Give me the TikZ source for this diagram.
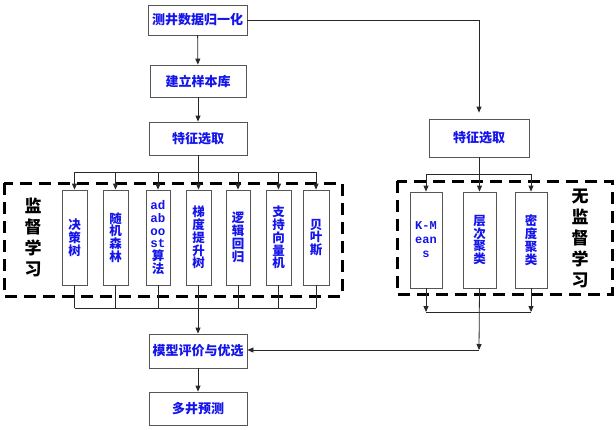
\documentclass[tikz,border=0pt]{standalone}
\usepackage{fontspec}
\newfontfamily\cjk{Noto Sans CJK SC}
\newfontfamily\mono{Liberation Mono}
\usetikzlibrary{arrows.meta}
\definecolor{txtblue}{RGB}{20,20,235}
\definecolor{boxgray}{RGB}{85,85,85}
\definecolor{linegray}{RGB}{40,40,40}
\begin{document}
\begin{tikzpicture}[x=1pt,y=-1pt,
  box/.style={draw=boxgray, line width=0.8pt, fill=white, inner sep=0pt, text=txtblue,
    font=\cjk\bfseries\fontsize{13}{13}\selectfont},
  vbox/.style={box, minimum height=95pt, align=center,
    font=\cjk\bfseries\fontsize{12.5}{12.8}\selectfont},
  conn/.style={draw=linegray, line width=0.8pt},
  arr/.style={conn, -{Triangle[length=6pt,width=5pt]}},
  dashbox/.style={draw=black, line width=3pt, dash pattern=on 12pt off 7pt},
  side/.style={align=center, inner sep=0pt, font=\cjk\bfseries\fontsize{17}{21}\selectfont}]
\useasboundingbox (0,0) rectangle (616,429);
\fill[white] (0,0) rectangle (616,429);
% dashed groups
\draw[dashbox] (4,183) rectangle (342,296);
\draw[dashbox] (397,181) rectangle (612,294);
% left column
\node[box, minimum width=99pt, minimum height=30pt] (n1) at (197.5,20) {测井数据归一化};
\node[box, minimum width=96pt, minimum height=32pt] (n2) at (198,81) {建立样本库};
\node[box, minimum width=98pt, minimum height=33pt] (n3) at (198,138.5) {特征选取};
\node[vbox, minimum width=25pt] (m1) at (74.5,237.5) {决\\策\\树};
\node[vbox, minimum width=25pt] (m2) at (115.5,237.5) {随\\机\\森\\林};
\node[vbox, minimum width=24pt] (m3) at (158,237.5) {{\mono ad}\\{\mono ab}\\{\mono oo}\\{\mono st}\\算\\法};
\node[vbox, minimum width=25pt] (m4) at (198.5,237.5) {梯\\度\\提\\升\\树};
\node[vbox, minimum width=24pt] (m5) at (238,237.5) {逻\\辑\\回\\归};
\node[vbox, minimum width=25pt] (m6) at (278.5,237.5) {支\\持\\向\\量\\机};
\node[vbox, minimum width=26pt] (m7) at (316,237.5) {贝\\叶\\斯};
\node[box, minimum width=98pt, minimum height=34pt] (ev) at (198,351) {模型评价与优选};
\node[box, minimum width=98pt, minimum height=33pt] (pr) at (198,408.5) {多井预测};
% right column
\node[box, minimum width=100pt, minimum height=38pt] (r0) at (479,138) {特征选取};
\node[vbox, minimum width=32pt, minimum height=96pt, font=\mono\bfseries\fontsize{12}{14}\selectfont] (k1) at (426,240) {K-M\\ean\\s};
\node[vbox, minimum width=33pt, minimum height=96pt] (k2) at (479.5,240) {层\\次\\聚\\类};
\node[vbox, minimum width=32pt, minimum height=96pt] (k3) at (531,240) {密\\度\\聚\\类};
% side labels
\node[side] (sl) at (33,237) {监\\督\\学\\习};
\node[side] (sr) at (580,238) {无\\监\\督\\学\\习};
% left connectors
\draw[arr] (n1) -- (n2);
\draw[arr] (n2) -- (n3);
\coordinate (tb) at (198,172);
\draw[conn] (n3.south) -- (tb);
\draw[conn] (tb -| m1.north) -- (tb -| m7.north);
\foreach \i in {1,...,7} \draw[arr] (tb -| m\i.north) -- (m\i.north);
\coordinate (bb) at (198,308);
\foreach \i in {1,...,7} \draw[conn] (m\i.south) -- (bb -| m\i.south);
\draw[conn] (bb -| m1.south) -- (bb -| m7.south);
\draw[arr] (bb -| ev.north) -- (ev.north);
\draw[arr] (ev) -- (pr);
% right connectors
\draw[arr, shorten >=6pt] (n1.east) -- (n1.east -| r0.north) -- (r0.north);
\coordinate (rb) at (479,174);
\draw[conn] (r0.south) -- (rb);
\draw[conn] (rb -| k1.north) -- (rb -| k3.north);
\foreach \i in {1,2,3} \draw[arr] (rb -| k\i.north) -- (k\i.north);
\coordinate (rb2) at (479,312);
\draw[arr] (k1.south) -- (rb2 -| k1.south);
\draw[arr] (k3.south) -- (rb2 -| k3.south);
\draw[conn] (rb2 -| k1.south) -- (rb2 -| k3.south);
\coordinate (rj) at (479,350);
\draw[arr] (k2.south) -- (rj);
\draw[arr] (rj) -- (rj -| ev.east);
\end{tikzpicture}
\end{document}
